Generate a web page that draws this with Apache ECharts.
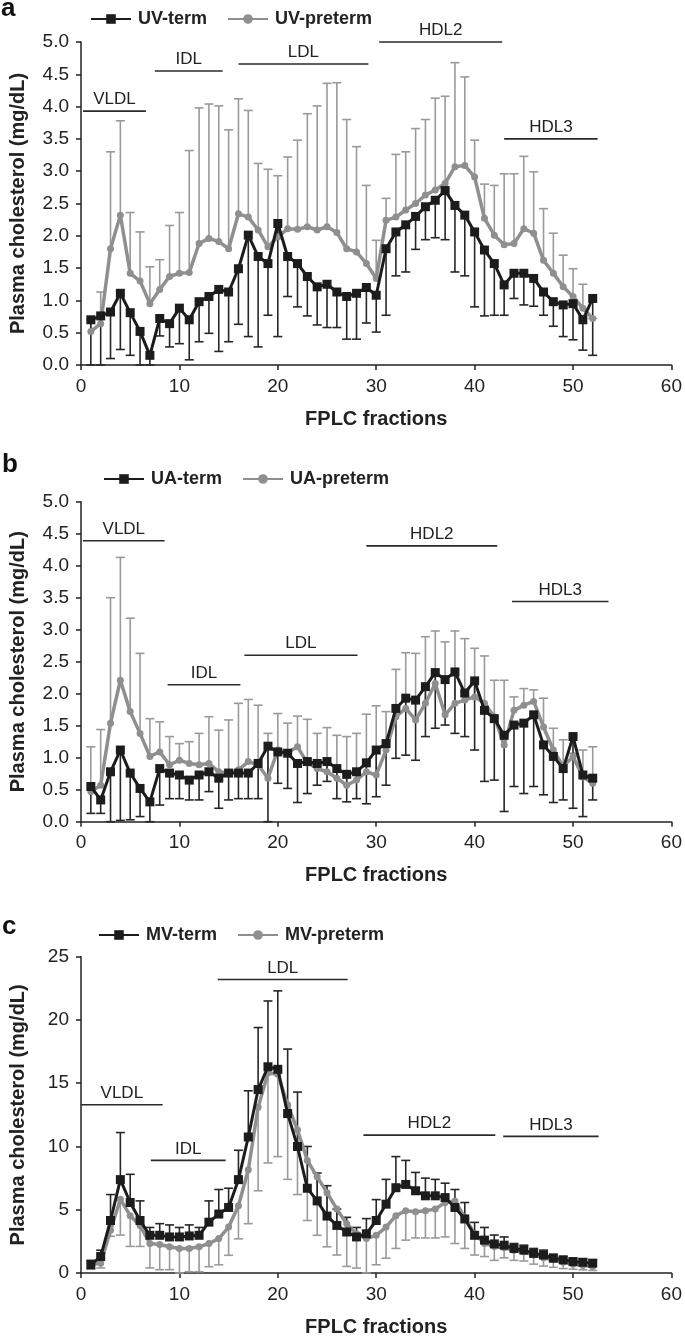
<!DOCTYPE html>
<html>
<head>
<meta charset="utf-8">
<script src="https://cdn.jsdelivr.net/npm/echarts@6/dist/echarts.min.js"></script>
<style>
html,body{margin:0;padding:0;background:#fff;}
#chart{width:685px;height:1338px;}
</style>
</head>
<body>
<div id="chart"></div>
<script>
// ---------- DATA ----------
const fractions = [1,2,3,4,5,6,7,8,9,10,11,12,13,14,15,16,17,18,19,20,21,22,23,24,25,26,27,28,29,30,31,32,33,34,35,36,37,38,39,40,41,42,43,44,45,46,47,48,49,50,51,52];

// Panel a (UV)
const uvTerm = [0.70,0.76,0.82,1.11,0.81,0.52,0.15,0.72,0.64,0.88,0.70,0.98,1.06,1.17,1.13,1.49,2.01,1.68,1.57,2.19,1.68,1.57,1.37,1.21,1.25,1.13,1.06,1.11,1.20,1.08,1.80,2.06,2.17,2.30,2.45,2.55,2.70,2.47,2.32,2.06,1.78,1.57,1.24,1.42,1.42,1.34,1.13,0.98,0.93,0.95,0.70,1.03];
const uvTermErrEnd = [0,0,0.10,0.24,0.15,0,0,0.45,0.28,0.33,0.08,0.36,0.49,0.21,0.36,0.63,0.44,0.28,0.77,0.44,1.06,0.90,0.76,0.62,0.58,0.58,0.40,0.40,0.65,0.51,0.77,1.38,1.44,1.79,1.94,1.97,1.94,1.44,1.38,0.90,0.76,0.77,0.77,1.03,0.93,0.91,0.77,0.60,0.44,0.39,0.23,0.15];
const uvPreterm = [0.52,0.64,1.80,2.32,1.42,1.30,0.95,1.17,1.37,1.42,1.43,1.88,1.96,1.91,1.80,2.34,2.29,2.09,1.83,1.98,2.11,2.10,2.14,2.09,2.14,2.05,1.80,1.75,1.57,1.34,2.24,2.29,2.40,2.50,2.63,2.71,2.81,3.07,3.09,2.91,2.27,2.01,1.86,1.88,2.11,2.04,1.62,1.42,1.21,1.06,0.88,0.72];
const uvPretermErrEnd = [0.70,1.13,3.30,3.78,2.36,2.06,1.52,1.63,2.16,2.36,3.32,3.98,4.04,4.01,3.64,4.12,3.94,3.12,3.03,2.93,3.22,3.48,3.89,4.01,4.36,4.37,3.80,3.38,2.78,1.93,2.58,3.26,3.30,3.66,3.80,4.13,4.16,4.68,4.46,3.48,2.80,2.78,2.96,2.96,3.23,2.99,2.42,2.04,1.70,1.49,1.25,0.72];

// Panel b (UA)
const uaTerm = [0.55,0.34,0.78,1.12,0.76,0.52,0.31,0.83,0.76,0.73,0.65,0.73,0.78,0.68,0.76,0.76,0.76,0.91,1.18,1.09,1.07,0.91,0.94,0.91,0.94,0.83,0.74,0.78,0.92,1.12,1.22,1.77,1.93,1.90,2.11,2.33,2.22,2.34,2.01,2.20,1.74,1.61,1.35,1.51,1.54,1.67,1.20,1.02,0.83,1.33,0.73,0.68];
const uaTermErrEnd = [0.13,0.13,0,0.02,0.03,0.08,0,0.26,0.36,0.36,0.34,0.34,0.47,0.21,0.34,0.36,0.36,0.36,0,0.60,0.52,0.30,0.44,0.57,0.63,0.36,0.31,0.36,0.28,0.39,0.57,0.99,1.04,0.96,1.33,1.46,1.51,1.38,1.33,1.12,0.63,0.65,0.16,0.55,0.44,0.55,0.42,0.30,0.34,0.21,0.08,0.34];
const uaPreterm = [0.47,0.57,1.54,2.21,1.72,1.38,1.02,1.09,0.89,0.96,0.91,0.89,0.91,0.78,0.76,0.81,0.94,0.89,0.68,1.12,1.08,1.17,0.92,0.83,0.78,0.68,0.57,0.65,0.78,0.73,1.12,1.64,1.77,1.59,1.85,2.16,1.67,1.85,1.90,1.95,1.85,1.64,1.20,1.74,1.82,1.88,1.48,1.12,0.86,1.02,0.70,0.60];
const uaPretermErrEnd = [1.17,1.44,3.50,4.13,3.18,2.63,1.61,1.56,1.33,1.22,1.25,1.38,1.64,1.43,1.59,1.85,1.91,1.82,1.38,1.69,1.54,1.65,1.60,1.38,1.47,1.35,1.33,1.38,1.68,1.81,1.72,2.38,2.64,2.63,2.89,2.98,2.81,2.98,2.86,2.71,2.59,2.21,2.21,1.95,2.08,2.06,1.93,1.46,1.28,1.07,1.12,1.17];

// Panel c (MV)
const mvTerm = [0.65,1.30,4.15,7.38,5.57,4.15,2.98,2.98,2.85,2.85,2.93,2.98,4.02,4.66,5.18,7.38,10.75,14.5,16.3,16.1,12.6,10.0,6.7,5.7,4.5,3.76,3.24,2.85,3.1,4.15,5.44,6.74,7.0,6.5,6.1,6.1,5.96,5.18,4.27,2.98,2.6,2.3,2.2,1.94,1.81,1.55,1.42,1.17,1.04,0.9,0.85,0.78];
const mvTermErrEnd = [1.0,1.8,6.2,11.1,7.8,5.7,3.6,3.9,3.8,3.6,3.8,3.6,5.7,6.6,6.7,9.7,14.4,19.4,21.5,22.3,17.7,14.3,10.0,7.9,6.9,5.05,4.4,3.6,4.3,5.8,7.4,9.2,8.9,7.95,7.5,7.4,7.1,6.6,5.57,4.0,3.6,3.0,2.85,2.33,2.2,1.94,1.81,1.48,1.3,1.17,1.11,1.04];
const mvPreterm = [0.65,0.78,3.37,5.83,4.53,3.76,2.33,2.25,2.07,1.94,1.94,2.07,2.33,2.72,3.63,5.31,8.16,13.1,15.8,15.7,13.3,11.3,8.9,7.6,6.35,5.05,3.9,3.1,2.72,2.98,3.63,4.53,4.92,4.84,4.92,5.05,5.57,5.7,4.4,3.1,2.33,2.1,2.0,1.8,1.68,1.42,1.2,1.04,0.85,0.7,0.6,0.52];
const mvPretermErrEnd = [0.3,0.4,2.9,3.0,2.1,2.1,0.4,0.26,0.26,0,0.1,0.1,0.5,0.65,1.4,2.7,3.9,6.5,8.7,9.2,7.4,6.2,4.15,2.98,2.07,1.42,0.52,0.39,0,0.65,1.17,1.94,2.6,2.77,2.77,2.77,2.85,2.33,1.94,1.42,1.3,1.0,1.2,1.0,0.95,0.7,0.55,0.45,0.35,0.3,0.25,0.2];

// Lipoprotein class brackets: [start fraction, end fraction, y level]
const bracketLabels = ['VLDL','IDL','LDL','HDL2','HDL3'];
const bracketsA = [[0.2,6.6,3.93],[7.5,14.4,4.55],[16.0,29.2,4.66],[30.3,42.8,5.0],[43.0,52.5,3.5]];
const bracketsB = [[0.2,8.5,4.39],[8.8,16.2,2.14],[16.6,28.1,2.6],[29.0,42.3,4.31],[43.8,53.6,3.44]];
const bracketsC = [[0.0,8.3,13.3],[7.1,14.7,8.9],[13.9,27.1,23.2],[28.7,42.1,10.9],[42.9,52.6,10.8]];

const xTicks = [0,10,20,30,40,50,60];
const legendNames = [['UV-term','UV-preterm'],['UA-term','UA-preterm'],['MV-term','MV-preterm']];
const panelLetters = ['a','b','c'];
const yMax = [5, 5, 25];
const yInterval = [0.5, 0.5, 5];

// ---------- CHART ----------
const FONT = 'Liberation Sans, Arial, Helvetica, sans-serif';
const BLACK = '#1c1c1c', GRAY = '#8f8f8f';
const grids = [
  {left:77.5, width:595.2, top:42, height:323},
  {left:77.5, width:595.2, top:501.7, height:320},
  {left:77.5, width:595.2, top:956.7, height:321.6}
];

function pairs(ys){ return fractions.map((f,i)=>[f, ys[i]]); }
function errData(ys, ends){ return fractions.map((f,i)=>[f, ys[i], ends[i]]); }

function errRender(color){
  return function(params, api){
    const x = api.value(0), v = api.value(1), e = api.value(2);
    const p1 = api.coord([x, v]), p2 = api.coord([x, e]);
    const hw = 4.5;
    return {type:'group', children:[
      {type:'line', shape:{x1:p1[0],y1:p1[1],x2:p2[0],y2:p2[1]}, style:{stroke:color, lineWidth:1.6}},
      {type:'line', shape:{x1:p2[0]-hw,y1:p2[1],x2:p2[0]+hw,y2:p2[1]}, style:{stroke:color, lineWidth:1.6}}
    ]};
  };
}
function bracketRender(params, api){
  const a = api.coord([api.value(0), api.value(2)]);
  const b = api.coord([api.value(1), api.value(2)]);
  return {type:'group', children:[
    {type:'line', shape:{x1:a[0],y1:a[1],x2:b[0],y2:b[1]}, style:{stroke:'#2a2a2a', lineWidth:1.6}},
    {type:'text', x:(a[0]+b[0])/2, y:a[1]-3, style:{text:bracketLabels[params.dataIndex], fontSize:17, fontFamily:FONT, fill:'#222', align:'center', verticalAlign:'bottom'}}
  ]};
}

const xAxes = [], yAxes = [], series = [], legends = [], graphics = [];
const panels = [
  {term:uvTerm, termE:uvTermErrEnd, pre:uvPreterm, preE:uvPretermErrEnd, br:bracketsA},
  {term:uaTerm, termE:uaTermErrEnd, pre:uaPreterm, preE:uaPretermErrEnd, br:bracketsB},
  {term:mvTerm, termE:mvTermErrEnd, pre:mvPreterm, preE:mvPretermErrEnd, br:bracketsC}
];
panels.forEach((p, k)=>{
  xAxes.push({
    gridIndex:k, type:'value', min:xTicks[0], max:xTicks[xTicks.length-1], interval:10,
    name:'FPLC fractions', nameLocation:'middle', nameGap:44,
    nameTextStyle:{fontFamily:FONT, fontSize:20, fontWeight:'bold', color:'#222'},
    axisLine:{show:true, onZero:false, lineStyle:{color:'#222', width:1.5}},
    axisTick:{show:true, inside:false, length:5, lineStyle:{color:'#222', width:1.5}},
    axisLabel:{fontFamily:FONT, fontSize:19, color:'#222', margin:12},
    splitLine:{show:false}
  });
  yAxes.push({
    gridIndex:k, type:'value', min:0, max:yMax[k], interval:yInterval[k],
    name:'Plasma cholesterol (mg/dL)', nameLocation:'middle', nameGap:53,
    nameTextStyle:{fontFamily:FONT, fontSize:20, fontWeight:'bold', color:'#222'},
    axisLine:{show:true, lineStyle:{color:'#222', width:1.5}},
    axisTick:{show:true, inside:false, length:5, lineStyle:{color:'#222', width:1.5}},
    axisLabel:{fontFamily:FONT, fontSize:19, color:'#222', margin:12,
      formatter: v => k < 2 ? v.toFixed(1) : String(v)},
    splitLine:{show:false}
  });
  const names = legendNames[k];
  series.push({
    type:'custom', name:names[1]+' err', xAxisIndex:k, yAxisIndex:k, z:1,
    renderItem: errRender('#9a9a9a'), data: errData(p.pre, p.preE), silent:true
  });
  series.push({
    type:'custom', name:names[0]+' err', xAxisIndex:k, yAxisIndex:k, z:1,
    renderItem: errRender('#262626'), data: errData(p.term, p.termE), silent:true
  });
  series.push({
    type:'line', name:names[1], xAxisIndex:k, yAxisIndex:k, z:3,
    data: pairs(p.pre), symbol:'circle', symbolSize:7, showAllSymbol:true,
    lineStyle:{color:GRAY, width:3.5}, itemStyle:{color:GRAY}, animation:false
  });
  series.push({
    type:'line', name:names[0], xAxisIndex:k, yAxisIndex:k, z:4,
    data: pairs(p.term), symbol:'rect', symbolSize:9, showAllSymbol:true,
    lineStyle:{color:BLACK, width:3}, itemStyle:{color:BLACK}, animation:false
  });
  series.push({
    type:'custom', name:'brackets'+k, xAxisIndex:k, yAxisIndex:k, z:5, clip:false,
    renderItem: bracketRender, data: p.br, encode:{x:[0,1], y:2}, silent:true
  });
  legends.push({
    data: names, left: [85,98,93][k], top: [5, 465, 921][k],
    itemWidth:40, itemHeight:12, itemGap:20,
    textStyle:{fontFamily:FONT, fontSize:18, fontWeight:'bold', color:'#222', padding:[0,0,0,2]},
    selectedMode:false
  });
  graphics.push({
    type:'text', left:[1,2,2][k], top:[-4,452,914][k],
    style:{text:panelLetters[k], fontFamily:FONT, fontSize:26, fontWeight:'bold', fill:'#111'}
  });
});

const chart = echarts.init(document.getElementById('chart'), null, {renderer:'canvas'});
chart.setOption({
  animation:false,
  backgroundColor:'#fff',
  grid: grids,
  xAxis: xAxes,
  yAxis: yAxes,
  legend: legends,
  graphic: graphics,
  series: series
});
</script>
</body>
</html>
